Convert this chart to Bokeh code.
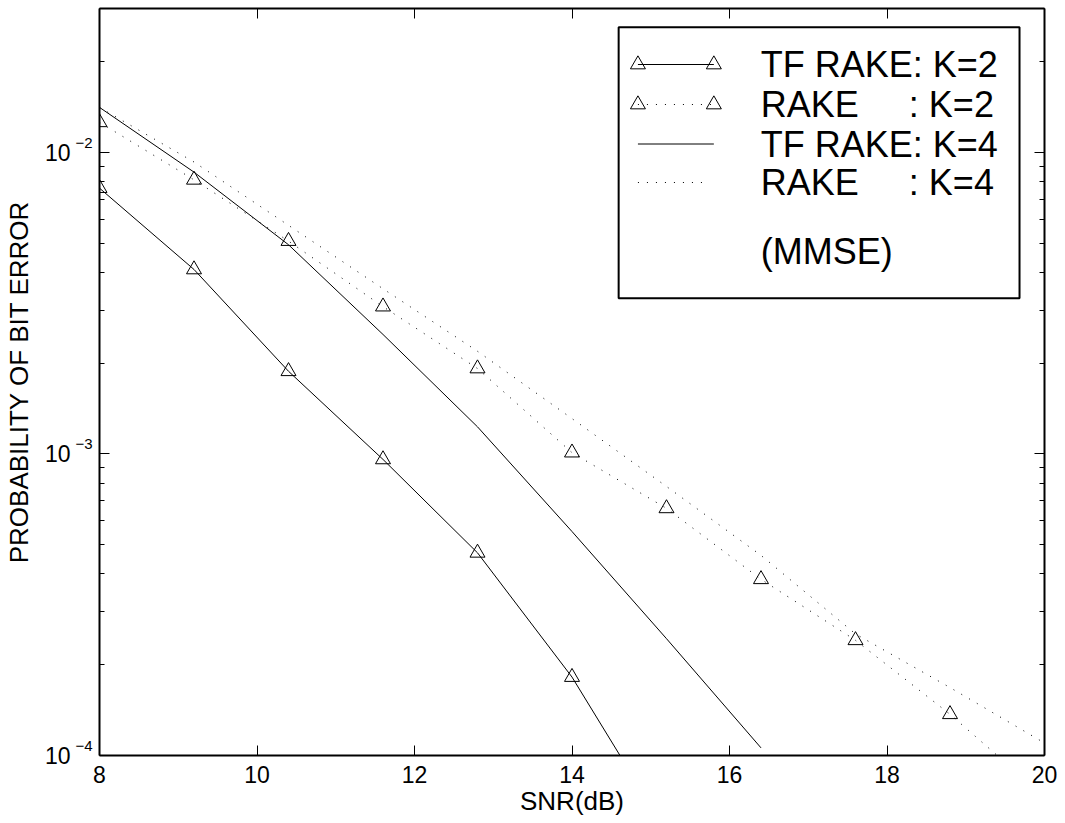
from bokeh.plotting import figure
from bokeh.models import (Range1d, LinearAxis, LogAxis, FixedTicker, CustomJSTickFormatter,
                          LinearScale)
from bokeh.core.properties import value
from bokeh.embed import file_html
from bokeh.resources import INLINE

# ---------------- data ----------------
snr = [8.0, 9.2, 10.4, 11.6, 12.8, 14.0, 15.2, 16.4, 17.6, 18.8, 20.0]
tf_rake_k2 = [7.61e-3, 4.09e-3, 1.88e-3, 9.59e-4, 4.70e-4, 1.82e-4, 5.6e-5]
rake_k2 = [1.258e-2, 8.11e-3, 5.08e-3, 3.08e-3, 1.92e-3, 1.01e-3, 6.60e-4,
           3.84e-4, 2.41e-4, 1.37e-4, 7.3e-5]
tf_rake_k4 = [1.41e-2, 8.6e-3, 4.94e-3, 2.49e-3, 1.23e-3, 5.53e-4, 2.44e-4, 1.06e-4]
rake_k4 = [1.41e-2, 9.29e-3, 5.73e-3, 3.53e-3, 2.19e-3, 1.31e-3, 7.80e-4,
           4.61e-4, 2.53e-4, 1.68e-4, 1.10e-4]

x_ticks = [8, 10, 12, 14, 16, 18, 20]
y_exponents = [-4, -3, -2]
y_minor = [m * 10.0 ** e for e in y_exponents for m in range(2, 10) if m * 10.0 ** e <= 0.03]

legend_labels = ["TF RAKE: K=2", "RAKE\u00a0\u00a0\u00a0\u00a0\u00a0: K=2",
                 "TF RAKE: K=4", "RAKE\u00a0\u00a0\u00a0\u00a0\u00a0: K=4", "(MMSE)"]

FONT = "Liberation Sans"
DOT = "1 8"

# ---------------- figure ----------------
p = figure(width=1065, height=823, output_backend="svg", toolbar_location=None,
           x_range=Range1d(8, 20), y_range=Range1d(1e-4, 3e-2), y_axis_type=None,
           min_border_left=98, min_border_right=21, min_border_top=8, min_border_bottom=68,
           x_axis_label="SNR(dB)")
p.y_scale = p.y_scale  # log scale already set via y_axis_type handling below
from bokeh.models import LogScale
p.y_scale = LogScale()
p.xgrid.visible = False
p.outline_line_color = None
p.background_fill_color = "white"
p.border_fill_color = "white"

xt = FixedTicker(ticks=x_ticks)
yt = FixedTicker(ticks=[10.0 ** e for e in y_exponents], minor_ticks=y_minor)

def style_axis(ax, labels=True):
    ax.axis_line_color = "black"
    ax.axis_line_width = 2
    ax.major_tick_in = 10
    ax.major_tick_out = 0
    ax.minor_tick_in = 5
    ax.minor_tick_out = 0
    ax.major_tick_line_color = "black"
    ax.minor_tick_line_color = "black"
    ax.major_label_text_font = FONT
    ax.major_label_text_color = "black"
    ax.axis_label_text_font = FONT
    ax.axis_label_text_font_style = "normal"
    ax.axis_label_text_color = "black"
    if not labels:
        ax.major_label_text_font_size = "0px"
        ax.major_label_standoff = 0

# bottom
xa = p.xaxis[0]
xa.ticker = xt
style_axis(xa)
xa.minor_tick_line_color = None
xa.major_label_text_font_size = "23px"
xa.major_label_standoff = 10
xa.axis_label_text_font_size = "26px"
xa.axis_label_standoff = 0

# left: inner axis carries the frame line, ticks and the exponents of "10^e"
exp_labels = {str(10.0 ** e): "\u2212%d\n\u00a0" % abs(e) for e in y_exponents}
exp_axis = LogAxis(ticker=yt)
style_axis(exp_axis)
exp_axis.formatter = CustomJSTickFormatter(
    args=dict(lab=exp_labels),
    code="const e = Math.round(Math.log10(tick)); return '\u2212' + Math.abs(e) + '\\n\u00a0';")
exp_axis.major_label_text_font_size = "15px"
exp_axis.major_label_standoff = 7

# outer axis carries the mantissa "10" and the axis title
base_axis = LogAxis(ticker=yt, axis_label="PROBABILITY OF BIT ERROR")
style_axis(base_axis)
base_axis.axis_line_color = None
base_axis.major_tick_line_color = None
base_axis.minor_tick_line_color = None
base_axis.formatter = CustomJSTickFormatter(code="return '10'")
base_axis.major_label_text_font_size = "23px"
base_axis.major_label_standoff = 2
base_axis.axis_label_text_font_size = "26px"
base_axis.axis_label_standoff = 8

p.add_layout(exp_axis, "left")
p.add_layout(base_axis, "left")

# top and right (ticks only)
top = LinearAxis(ticker=xt)
style_axis(top, labels=False)
top.minor_tick_line_color = None
top.formatter = CustomJSTickFormatter(code="return ''")
p.add_layout(top, "above")
right = LogAxis(ticker=yt)
style_axis(right, labels=False)
right.formatter = CustomJSTickFormatter(code="return ''")
p.add_layout(right, "right")

# ---------------- series ----------------
n1 = len(tf_rake_k2)
p.line(snr[:n1], tf_rake_k2, line_color="black", line_width=1)
p.scatter(snr[:n1], tf_rake_k2, marker="triangle", size=15, fill_color=None,
          line_color="black", line_width=1)

p.line(snr, rake_k2, line_color="black", line_width=1, line_dash=DOT)
p.scatter(snr, rake_k2, marker="triangle", size=15, fill_color=None,
          line_color="black", line_width=1)

n3 = len(tf_rake_k4)
p.line(snr[:n3], tf_rake_k4, line_color="black", line_width=1)
p.line(snr, rake_k4, line_color="black", line_width=1, line_dash=DOT)

# ---------------- legend (frame pixel coordinates) ----------------
p.extra_x_ranges = {"px": Range1d(0, 946)}
p.extra_y_ranges = {"px": Range1d(0, 747)}
p.extra_x_scales = {"px": LinearScale()}
p.extra_y_scales = {"px": LinearScale()}
kw = dict(x_range_name="px", y_range_name="px")

p.quad(left=[519.7], right=[921], top=[728.3], bottom=[457.3], fill_color="white",
       line_color="black", line_width=2, **kw)
row_y = [691, 651, 611.5, 573, 504]
gx0, gx1 = 539, 615
p.segment(x0=[gx0], y0=[row_y[0]], x1=[gx1], y1=[row_y[0]], line_color="black", line_width=1, **kw)
p.scatter(x=[gx0, gx1], y=[row_y[0]] * 2, marker="triangle", size=15, fill_color=None,
          line_color="black", line_width=1, **kw)
p.segment(x0=[gx0], y0=[row_y[1]], x1=[gx1], y1=[row_y[1]], line_color="black", line_width=1,
          line_dash=DOT, **kw)
p.scatter(x=[gx0, gx1], y=[row_y[1]] * 2, marker="triangle", size=15, fill_color=None,
          line_color="black", line_width=1, **kw)
p.segment(x0=[gx0], y0=[row_y[2]], x1=[gx1], y1=[row_y[2]], line_color="black", line_width=1, **kw)
p.segment(x0=[gx0], y0=[row_y[3]], x1=[gx1 - 8], y1=[row_y[3]], line_color="black", line_width=1,
          line_dash=DOT, **kw)
p.text(x=[662] * 5, y=row_y, text=legend_labels, text_font=value(FONT), text_font_size="36px",
       text_baseline="middle", text_align="left", text_color="black", **kw)

open("out.html", "w").write(file_html(p, INLINE))
